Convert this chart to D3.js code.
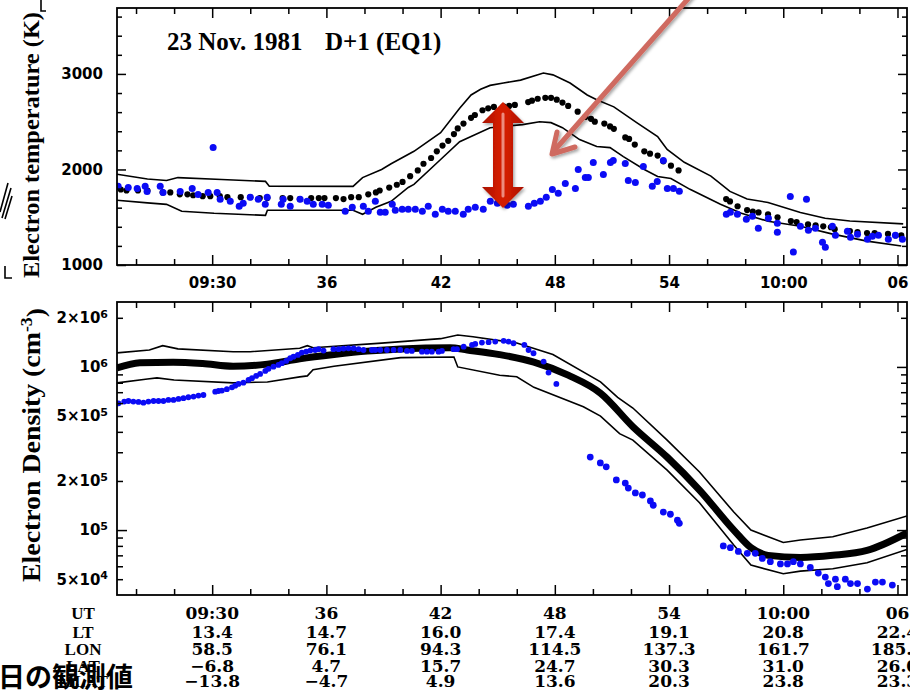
<!DOCTYPE html>
<html>
<head>
<meta charset="utf-8">
<script src="https://cdn.jsdelivr.net/npm/d3@7"></script>
<style>
  body { margin: 0; background: #fff; }
  svg { display: block; }
</style>
</head>
<body>
<svg id="chart" width="910" height="691"></svg>
<script>
// ---- time axis (minutes after 09:00 UT) ----
const utTicks  = [30, 36, 42, 48, 54, 60, 66];
const utLabels = ["09:30", "36", "42", "48", "54", "10:00", "06"];

// ---- orbit table under the lower panel ----
const rowNames  = ["UT", "LT", "LON", "LAT", "MLAT"];
const ltValues   = ["13.4", "14.7", "16.0", "17.4", "19.1", "20.8", "22.4"];
const lonValues  = ["58.5", "76.1", "94.3", "114.5", "137.3", "161.7", "185.6"];
const latValues  = ["\u22126.8", "4.7", "15.7", "24.7", "30.3", "31.0", "26.0"];
const mlatValues = ["\u221213.8", "\u22124.7", "4.9", "13.6", "20.3", "23.8", "23.3"];

// ---- electron temperature (K): [minute, value] ----
const teUpper = [[25.0,1950],[26.6,1900],[27.6,1885],[28.2,1915],[30.5,1895],[32.8,1875],[33.0,1825],[37.4,1823],[37.9,1915],[38.9,2000],[39.4,2060],[40.6,2190],[42.0,2385],[43.0,2640],[43.6,2780],[44.1,2840],[44.6,2880],[45.3,2905],[46.2,2935],[47.4,3010],[47.9,2990],[48.8,2905],[49.7,2780],[50.2,2730],[51.1,2655],[52.3,2490],[53.4,2345],[53.6,2290],[53.9,2210],[54.8,2075],[56.2,1930],[57.2,1770],[58.1,1690],[59.2,1655],[60.9,1550],[62.2,1490],[63.5,1460],[66.3,1430]];
const teLower = [[25.0,1677],[26.6,1650],[27.6,1635],[28.4,1562],[30.1,1541],[32.8,1520],[32.9,1573],[37.4,1573],[37.9,1531],[38.6,1604],[39.4,1667],[40.3,1812],[40.6,1844],[42.0,2104],[43.0,2290],[43.6,2344],[44.6,2437],[46.3,2469],[47.2,2500],[47.8,2490],[48.4,2437],[49.3,2313],[50.2,2240],[50.9,2229],[51.6,2135],[52.7,2000],[53.4,1927],[54.1,1906],[55.1,1792],[56.7,1635],[57.8,1541],[59.2,1458],[60.9,1406],[62.6,1323],[64.4,1250],[66.2,1198]];
const teModel = [[25.2,1790],[25.5,1780],[26.1,1780],[26.6,1780],[27.4,1760],[27.8,1760],[28.3,1740],[28.7,1740],[29.0,1730],[29.5,1720],[29.9,1720],[30.4,1720],[30.8,1710],[31.5,1710],[32.0,1710],[32.5,1700],[32.9,1700],[33.7,1700],[34.1,1700],[34.6,1690],[35.2,1700],[35.6,1700],[35.9,1700],[36.5,1700],[36.9,1690],[37.3,1710],[37.7,1710],[38.2,1740],[38.6,1760],[38.8,1780],[39.3,1810],[39.7,1840],[40.0,1870],[40.4,1930],[40.8,1990],[41.1,2060],[41.5,2120],[41.8,2190],[42.1,2250],[42.4,2300],[42.7,2370],[42.9,2430],[43.2,2480],[43.6,2540],[43.8,2570],[44.2,2620],[44.5,2640],[44.8,2655],[45.3,2660],[45.6,2665],[45.9,2675],[46.6,2705],[46.8,2720],[47.1,2740],[47.5,2750],[47.8,2750],[48.1,2730],[48.4,2700],[48.7,2665],[49.2,2605],[49.6,2550],[49.9,2530],[50.1,2500],[50.6,2480],[50.9,2450],[51.1,2425],[51.7,2335],[51.9,2320],[52.2,2260],[52.7,2190],[53.0,2165],[53.4,2145],[53.7,2085],[54.1,2040],[54.5,1990],[57.0,1690],[57.2,1665],[57.6,1615],[58.1,1575],[58.4,1560],[58.7,1550],[59.2,1530],[59.7,1500],[60.4,1460],[60.7,1450],[61.3,1425],[61.7,1415],[62.1,1405],[62.5,1395],[62.7,1375],[63.5,1355],[63.9,1345],[64.4,1335],[64.8,1335],[65.5,1325],[65.9,1310],[66.2,1310]];
const teObs = [[25.06,1823],[25.59,1812],[26.06,1802],[26.48,1823],[26.58,1770],[27.27,1823],[27.42,1760],[28.32,1770],[28.95,1802],[29.26,1739],[29.79,1760],[30.26,1760],[30.05,2229],[30.42,1687],[30.95,1666],[31.42,1614],[31.63,1646],[32.00,1708],[32.42,1687],[32.79,1635],[32.89,1708],[33.63,1635],[33.73,1687],[34.10,1614],[34.62,1687],[34.99,1666],[35.31,1635],[35.78,1635],[36.10,1625],[36.99,1562],[37.36,1604],[37.94,1614],[38.20,1562],[38.57,1666],[38.83,1552],[39.09,1552],[39.46,1635],[39.62,1573],[39.98,1583],[40.30,1583],[40.67,1583],[41.04,1562],[41.35,1614],[41.72,1531],[42.09,1583],[42.40,1562],[42.77,1562],[43.19,1531],[43.45,1583],[43.82,1604],[44.24,1583],[44.61,1666],[44.98,1646],[45.50,1625],[45.82,1635],[46.61,1614],[46.92,1646],[47.24,1666],[47.55,1708],[47.87,1791],[48.18,1750],[48.55,1854],[49.08,1802],[49.23,2000],[49.60,1916],[49.76,1916],[50.02,2073],[50.55,1948],[50.92,2073],[51.07,2094],[51.70,2062],[51.86,1885],[52.23,1864],[52.65,2031],[53.12,1823],[53.38,1875],[53.70,2094],[53.91,1802],[54.23,1802],[54.54,1771],[57.01,1531],[57.22,1552],[57.59,1531],[58.06,1479],[58.38,1510],[58.69,1385],[59.22,1489],[59.69,1343],[59.69,1437],[60.37,1718],[60.53,1135],[60.90,1406],[61.22,1687],[61.32,1364],[61.69,1385],[62.06,1239],[62.21,1187],[62.58,1406],[62.74,1312],[63.37,1354],[63.53,1291],[63.90,1323],[64.42,1270],[64.68,1302],[65.00,1312],[65.52,1270],[65.89,1312],[66.26,1270]];

// ---- electron density (cm^-3): [minute, value] ----
const neUpper = [[25.0,1.22e6],[26.7,1.27e6],[27.4,1.35e6],[28.2,1.29e6],[31.1,1.24e6],[32.0,1.24e6],[34.6,1.30e6],[35.0,1.35e6],[35.3,1.31e6],[38.9,1.40e6],[42.0,1.49e6],[42.9,1.57e6],[43.7,1.53e6],[46.0,1.40e6],[47.9,1.19e6],[50.4,8.1e5],[51.3,6.5e5],[52.1,5.6e5],[53.9,3.56e5],[55.6,2.27e5],[57.4,1.29e5],[58.3,1.0e5],[60.0,8.4e4],[60.9,8.7e4],[62.6,9.1e4],[64.4,1.03e5],[66.5,1.22e5]];
const neLower = [[25.0,7.98e5],[26.6,8.44e5],[27.1,8.57e5],[28.0,8.32e5],[31.1,7.98e5],[32.9,8.09e5],[34.6,8.69e5],[35.0,8.81e5],[35.3,9.6e5],[36.4,1.01e6],[39.9,1.14e6],[42.7,1.15e6],[42.9,1.0e6],[45.1,8.9e5],[46.0,8.7e5],[46.9,7.5e5],[49.5,5.7e5],[50.4,5.0e5],[51.4,3.9e5],[52.1,3.56e5],[53.9,2.33e5],[55.6,1.47e5],[57.4,8.1e4],[58.3,6.1e4],[60.0,5.4e4],[60.9,5.6e4],[62.6,5.8e4],[64.4,6.3e4],[66.5,7.6e4]];
const neModel = [[25.0,9.86e5],[26.2,1.06e6],[27.95,1.07e6],[29.5,1.05e6],[31.1,1.01e6],[32.9,1.04e6],[34.6,1.12e6],[36.4,1.19e6],[38.15,1.25e6],[39.9,1.29e6],[42.5,1.31e6],[43.4,1.27e6],[45.1,1.19e6],[46.9,1.07e6],[48.7,8.9e5],[50.4,6.9e5],[52.1,4.3e5],[53.9,2.8e5],[55.6,1.76e5],[57.4,1.0e5],[58.3,7.8e4],[59.2,7.0e4],[60.9,6.8e4],[62.6,7.0e4],[64.4,7.5e4],[66.5,9.6e4]];
const neObs = [[25.08,5.98e5],[25.38,6.13e5],[25.60,6.18e5],[25.86,6.13e5],[26.13,6.10e5],[26.39,6.04e5],[26.65,6.13e5],[26.92,6.18e5],[27.18,6.18e5],[27.44,6.18e5],[27.70,6.28e5],[27.97,6.28e5],[28.23,6.37e5],[28.49,6.43e5],[28.75,6.52e5],[29.02,6.58e5],[29.28,6.67e5],[29.54,6.73e5],[30.16,7.05e5],[30.33,7.12e5],[30.51,7.16e5],[30.77,7.30e5],[31.04,7.50e5],[31.21,7.67e5],[31.38,7.87e5],[31.64,8.01e5],[31.91,8.32e5],[32.09,8.53e5],[32.31,8.81e5],[32.52,9.06e5],[32.79,9.45e5],[32.96,9.73e5],[33.22,1.004e6],[33.48,1.029e6],[33.66,1.054e6],[33.89,1.089e6],[34.10,1.13e6],[34.27,1.156e6],[34.50,1.185e6],[34.71,1.224e6],[34.94,1.242e6],[35.15,1.26e6],[35.41,1.27e6],[35.59,1.284e6],[35.85,1.26e6],[36.37,1.284e6],[36.64,1.284e6],[36.90,1.295e6],[37.16,1.30e6],[37.43,1.30e6],[37.69,1.284e6],[37.95,1.27e6],[38.39,1.27e6],[38.57,1.27e6],[38.83,1.27e6],[39.18,1.27e6],[39.53,1.27e6],[39.88,1.27e6],[40.23,1.254e6],[40.49,1.254e6],[41.02,1.24e6],[41.28,1.24e6],[41.54,1.24e6],[41.89,1.24e6],[42.07,1.254e6],[42.68,1.284e6],[42.86,1.284e6],[43.21,1.33e6],[43.65,1.365e6],[43.82,1.384e6],[44.17,1.41e6],[44.52,1.418e6],[44.87,1.43e6],[45.31,1.445e6],[45.57,1.43e6],[45.83,1.397e6],[46.40,1.365e6],[46.62,1.27e6],[46.88,1.213e6],[47.41,1.078e6],[47.67,9.23e5],[48.08,7.87e5],[49.86,2.8e5],[50.39,2.58e5],[50.70,2.44e5],[51.23,2.03e5],[51.70,1.94e5],[51.86,1.81e5],[52.23,1.69e5],[52.60,1.64e5],[53.02,1.51e5],[53.17,1.42e5],[53.70,1.29e5],[54.07,1.25e5],[54.44,1.15e5],[54.54,1.10e5],[56.85,8.0e4],[57.22,7.8e4],[57.64,7.4e4],[58.11,7.2e4],[58.53,7.2e4],[58.90,6.7e4],[59.32,6.4e4],[59.85,6.2e4],[60.22,6.2e4],[60.53,6.4e4],[60.90,6.2e4],[61.42,5.9e4],[61.84,5.45e4],[62.21,5.15e4],[62.37,4.7e4],[62.74,5.0e4],[62.84,4.5e4],[63.26,5.0e4],[63.53,4.7e4],[63.90,4.7e4],[64.42,4.35e4],[64.84,4.8e4],[65.21,4.8e4],[65.73,4.6e4]];

// ---- tick sets ----
const minuteMinor = d3.range(26, 67, 2).filter(m => !utTicks.includes(m));
const teMajor = [1000, 2000, 3000];
const teMinor = d3.range(1200, 3700, 200).filter(v => v % 1000 !== 0);
const neMajor = [1e5, 1e6];
const neMinor = [5e4, 6e4, 7e4, 8e4, 9e4, 2e5, 3e5, 4e5, 5e5, 6e5, 7e5, 8e5, 9e5, 2e6];
const neLabelled = [5e4, 1e5, 2e5, 5e5, 1e6, 2e6];

// ---- layout ----
const svg = d3.select("#chart");
const L = 117, R = 907;
const topP = { top: 8, bottom: 265 };
const botP = { top: 302, bottom: 595 };

const x  = d3.scaleLinear().domain([25, 66.5]).range([L, R]);
const yT = d3.scaleLinear().domain([1000, 3690]).range([topP.bottom, topP.top]);
const yN = d3.scaleLog().domain([4e4, 2.5e6]).range([botP.bottom, botP.top]);

const BLUE = "#0b0bf5";
const tickFont = "'DejaVu Sans', sans-serif";
const serifFont = "'Liberation Serif', 'Times New Roman', serif";
const tableFont = "'DejaVu Serif', serif";

const defs = svg.append("defs");
defs.append("clipPath").attr("id", "clipTop").append("rect")
  .attr("x", L).attr("y", topP.top).attr("width", R - L).attr("height", topP.bottom - topP.top);
defs.append("clipPath").attr("id", "clipBot").append("rect")
  .attr("x", L).attr("y", botP.top).attr("width", R - L).attr("height", botP.bottom - botP.top);

// inward-pointing ticks on one edge
function edgeTicks(g, axisGen, scale, values, len) {
  g.call(axisGen(scale).tickValues(values).tickSize(-len).tickFormat(""));
  g.select(".domain").remove();
  g.selectAll(".tick line").attr("stroke", "#000").attr("stroke-width", 1.5);
}
function styleTickText(g) {
  g.attr("font-family", null).attr("font-size", null);
  g.selectAll(".tick text")
    .attr("fill", "#000")
    .style("font-family", tickFont)
    .style("font-weight", "bold")
    .style("font-size", "15px");
}

// ================= upper panel: electron temperature =================
const gT = svg.append("g");
const lineT = d3.line().x(d => x(d[0])).y(d => yT(d[1]));
const plotT = gT.append("g").attr("clip-path", "url(#clipTop)");
[teUpper, teLower].forEach(s => {
  plotT.append("path").datum(s).attr("d", lineT)
    .attr("fill", "none").attr("stroke", "#000").attr("stroke-width", 1.6);
});
plotT.append("g").selectAll("circle").data(teModel).join("circle")
  .attr("cx", d => x(d[0])).attr("cy", d => yT(d[1])).attr("r", 3.1).attr("fill", "#000");
plotT.append("g").selectAll("circle").data(teObs).join("circle")
  .attr("cx", d => x(d[0])).attr("cy", d => yT(d[1])).attr("r", 3.5).attr("fill", BLUE);

gT.append("rect").attr("x", L).attr("y", topP.top).attr("width", R - L).attr("height", topP.bottom - topP.top)
  .attr("fill", "none").attr("stroke", "#000").attr("stroke-width", 1.8);

edgeTicks(gT.append("g").attr("transform", `translate(0,${topP.bottom})`), d3.axisBottom, x, minuteMinor, 6);
const tAxisT = gT.append("g").attr("transform", `translate(0,${topP.bottom})`);
tAxisT.call(d3.axisBottom(x).tickValues(utTicks).tickSize(-10).tickPadding(12).tickFormat((d, i) => utLabels[i]));
tAxisT.select(".domain").remove();
tAxisT.selectAll(".tick line").attr("stroke", "#000").attr("stroke-width", 1.5);
styleTickText(tAxisT);
edgeTicks(gT.append("g").attr("transform", `translate(0,${topP.top})`), d3.axisTop, x, minuteMinor, 6);
edgeTicks(gT.append("g").attr("transform", `translate(0,${topP.top})`), d3.axisTop, x, utTicks, 10);

edgeTicks(gT.append("g").attr("transform", `translate(${L},0)`), d3.axisLeft, yT, teMinor, 5);
const yAxisT = gT.append("g").attr("transform", `translate(${L},0)`);
yAxisT.call(d3.axisLeft(yT).tickValues(teMajor).tickSize(-9).tickPadding(14).tickFormat(d3.format("d")));
yAxisT.select(".domain").remove();
yAxisT.selectAll(".tick line").attr("stroke", "#000").attr("stroke-width", 1.5);
styleTickText(yAxisT);
edgeTicks(gT.append("g").attr("transform", `translate(${R},0)`), d3.axisRight, yT, teMinor, 5);
edgeTicks(gT.append("g").attr("transform", `translate(${R},0)`), d3.axisRight, yT, teMajor, 9);

gT.append("text").attr("x", 167).attr("y", 50)
  .style("font-family", serifFont).style("font-weight", "bold").style("font-size", "25px")
  .text("23 Nov. 1981");
gT.append("text").attr("x", 325).attr("y", 50)
  .style("font-family", serifFont).style("font-weight", "bold").style("font-size", "25px")
  .text("D+1 (EQ1)");

gT.append("text").attr("transform", "translate(38.5,278) rotate(-90)")
  .attr("textLength", 266).attr("lengthAdjust", "spacingAndGlyphs")
  .style("font-family", serifFont).style("font-weight", "bold").style("font-size", "24px")
  .text("Electron temperature (K)");

// ================= lower panel: electron density =================
const gN = svg.append("g");
const lineN = d3.line().x(d => x(d[0])).y(d => yN(d[1]));
const plotN = gN.append("g").attr("clip-path", "url(#clipBot)");
[neUpper, neLower].forEach(s => {
  plotN.append("path").datum(s).attr("d", lineN)
    .attr("fill", "none").attr("stroke", "#000").attr("stroke-width", 1.6);
});
plotN.append("path").datum(neModel).attr("d", lineN.curve(d3.curveMonotoneX))
  .attr("fill", "none").attr("stroke", "#000").attr("stroke-width", 7);
plotN.append("g").selectAll("circle").data(neObs).join("circle")
  .attr("cx", d => x(d[0])).attr("cy", d => yN(d[1]))
  .attr("r", d => d[0] < 49 ? 2.9 : 3.4).attr("fill", BLUE);

gN.append("rect").attr("x", L).attr("y", botP.top).attr("width", R - L).attr("height", botP.bottom - botP.top)
  .attr("fill", "none").attr("stroke", "#000").attr("stroke-width", 1.8);

edgeTicks(gN.append("g").attr("transform", `translate(0,${botP.bottom})`), d3.axisBottom, x, minuteMinor, 6);
edgeTicks(gN.append("g").attr("transform", `translate(0,${botP.bottom})`), d3.axisBottom, x, utTicks, 10);
edgeTicks(gN.append("g").attr("transform", `translate(0,${botP.top})`), d3.axisTop, x, minuteMinor, 6);
edgeTicks(gN.append("g").attr("transform", `translate(0,${botP.top})`), d3.axisTop, x, utTicks, 10);

edgeTicks(gN.append("g").attr("transform", `translate(${L},0)`), d3.axisLeft, yN, neMinor, 6);
edgeTicks(gN.append("g").attr("transform", `translate(${L},0)`), d3.axisLeft, yN, neMajor, 10);
edgeTicks(gN.append("g").attr("transform", `translate(${R},0)`), d3.axisRight, yN, neMinor, 6);
edgeTicks(gN.append("g").attr("transform", `translate(${R},0)`), d3.axisRight, yN, neMajor, 10);

const yAxisN = gN.append("g").attr("transform", `translate(${L},0)`);
yAxisN.call(d3.axisLeft(yN).tickValues(neLabelled).tickSize(0).tickPadding(9));
yAxisN.select(".domain").remove();
yAxisN.selectAll(".tick line").remove();
styleTickText(yAxisN);
yAxisN.selectAll(".tick text").each(function (d) {
  const exp = Math.floor(Math.log10(d) + 1e-9);
  const mant = Math.round(d / Math.pow(10, exp));
  const t = d3.select(this).text(null);
  t.append("tspan").text(mant === 1 ? "10" : mant + "\u00d710");
  t.append("tspan").attr("dy", "-0.5em").style("font-size", "11px").text(exp);
});

const yl = gN.append("text").attr("transform", "translate(39.5,582) rotate(-90)")
  .attr("textLength", 274).attr("lengthAdjust", "spacingAndGlyphs")
  .style("font-family", serifFont).style("font-weight", "bold").style("font-size", "25px");
yl.append("tspan").text("Electron Density (cm");
yl.append("tspan").attr("dy", "-0.45em").style("font-size", "16px").text("-3");
yl.append("tspan").attr("dy", "0.45em").text(")");

// ================= orbit table =================
const gTab = svg.append("g");
const rowY = [619, 638, 655, 672, 687];
const rows = [utLabels, ltValues, lonValues, latValues, mlatValues];
rowNames.forEach((name, i) => {
  gTab.append("text").attr("x", 83).attr("y", rowY[i]).attr("text-anchor", "middle")
    .style("font-family", serifFont).style("font-weight", "bold").style("font-size", "17px")
    .text(name);
});
rows.forEach((vals, i) => {
  gTab.append("g").selectAll("text").data(vals).join("text")
    .attr("x", (d, j) => x(utTicks[j])).attr("y", rowY[i]).attr("text-anchor", "middle")
    .style("font-family", tableFont).style("font-weight", "bold").style("font-size", "17px")
    .text(d => d);
});

// ================= annotations =================
const grad = defs.append("linearGradient").attr("id", "redShade").attr("x1", "0").attr("x2", "1").attr("y1", "0").attr("y2", "0");
grad.append("stop").attr("offset", "0%").attr("stop-color", "#a80f00");
grad.append("stop").attr("offset", "40%").attr("stop-color", "#d21d05");
grad.append("stop").attr("offset", "60%").attr("stop-color", "#d21d05");
grad.append("stop").attr("offset", "100%").attr("stop-color", "#a80f00");
const shadow = defs.append("filter").attr("id", "soft").attr("x", "-30%").attr("y", "-30%").attr("width", "160%").attr("height", "160%");
shadow.append("feDropShadow").attr("dx", 1.5).attr("dy", 2).attr("stdDeviation", 1.5).attr("flood-color", "#000").attr("flood-opacity", 0.35);

// double-headed red arrow marking the gap between model and observation
const ax = 503, aTop = 102, aBot = 208, headH = 21, headW = 21, shaftW = 10;
const arrowPts = [
  [ax, aTop], [ax + headW, aTop + headH], [ax + shaftW, aTop + headH],
  [ax + shaftW, aBot - headH], [ax + headW, aBot - headH], [ax, aBot],
  [ax - headW, aBot - headH], [ax - shaftW, aBot - headH],
  [ax - shaftW, aTop + headH], [ax - headW, aTop + headH]
];
svg.append("polygon").attr("points", arrowPts.map(p => p.join(",")).join(" "))
  .attr("fill", "url(#redShade)").attr("filter", "url(#soft)");
svg.append("line").attr("x1", ax).attr("x2", ax).attr("y1", aTop + 12).attr("y2", aBot - 12)
  .attr("stroke", "#f4b0a8").attr("stroke-opacity", 0.75).attr("stroke-width", 3).attr("stroke-linecap", "round");

// pointer arrow from the upper right
const pg = svg.append("g").attr("filter", "url(#soft)")
  .attr("stroke", "#cf6a60").attr("stroke-width", 5).attr("stroke-linecap", "round").attr("fill", "none");
pg.append("line").attr("x1", 694).attr("y1", -8).attr("x2", 553).attr("y2", 152);
pg.append("polyline").attr("points", "557,132 552,154 575,147").attr("stroke-linejoin", "round");

// fragments at the left page edge
const frag = svg.append("g").attr("stroke", "#000").attr("fill", "none").attr("stroke-width", 1.6);
frag.append("path").attr("d", "M0,212 L8,183 M2,218 L11,188 M5,219 L12,196");
frag.append("path").attr("d", "M5,266 V278 H12");
frag.append("path").attr("d", "M41,0 V11 H46");

// caption text at the lower left
svg.append("text").attr("x", -2).attr("y", 687)
  .style("font-family", "'Noto Sans CJK JP', sans-serif").style("font-weight", "bold").style("font-size", "27px")
  .attr("fill", "#000").text("日の観測値");
</script>
</body>
</html>
